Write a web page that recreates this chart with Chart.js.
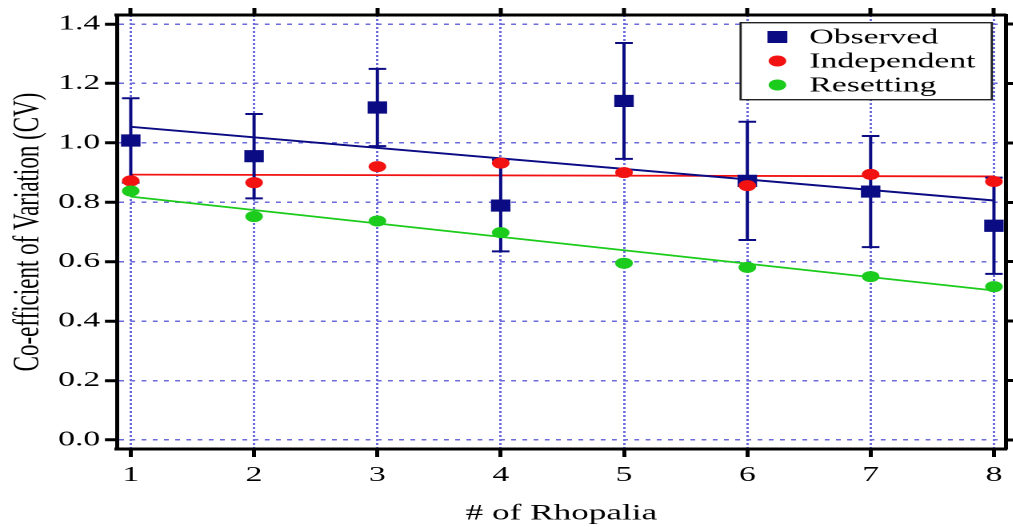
<!DOCTYPE html>
<html><head><meta charset="utf-8">
<script src="https://cdn.jsdelivr.net/npm/chart.js@4.4.1/dist/chart.umd.min.js"></script>
<style>
html,body{margin:0;padding:0;background:#fff;overflow:hidden;width:1013px;height:527px;}
#wrap{position:absolute;left:0;top:0;width:633.125px;height:527px;transform:scaleX(1.6);transform-origin:0 0;}
</style></head><body>
<div id="wrap"><canvas id="c"></canvas></div>
<script>
// ---- data ----
const rhopalia = [1, 2, 3, 4, 5, 6, 7, 8];
const observed = [1.008, 0.955, 1.119, 0.789, 1.141, 0.872, 0.836, 0.721];
const observedErr = [0.142, 0.142, 0.130, 0.154, 0.195, 0.199, 0.187, 0.162];
const independent = [0.872, 0.866, 0.920, 0.932, 0.900, 0.856, 0.894, 0.870];
const resetting = [0.838, 0.752, 0.737, 0.698, 0.595, 0.581, 0.550, 0.516];
const fitX = [1, 8];
const observedFit = [1.054, 0.806];
const independentFit = [0.893, 0.887];
const resettingFit = [0.819, 0.503];
const seriesNames = ['Observed', 'Independent', 'Resetting'];
const xTitle = '# of Rhopalia';
const yTitle = 'Co-efficient of Variation (CV)';

const NAVY = '#0b0b84', RED = '#f21212', GREEN = '#1ccc1c', GRID = '#6b6bdc';
const FONT = '"Liberation Serif", "Times New Roman", serif';
const toXY = (xs, ys) => xs.map((x, i) => ({x: x, y: ys[i]}));

const errorBars = {
  id: 'errorBars',
  beforeDatasetDraw(chart, args) {
    const ds = chart.data.datasets[args.index];
    if (!ds.errors) return;
    const xs = chart.scales.x, ys = chart.scales.y, ctx = chart.ctx;
    ctx.save();
    ctx.strokeStyle = ds.backgroundColor;
    ctx.lineWidth = 2;
    ds.data.forEach((p, i) => {
      const e = ds.errors[i];
      const px = xs.getPixelForValue(p.x);
      const t = ys.getPixelForValue(p.y + e), b = ys.getPixelForValue(p.y - e);
      ctx.beginPath();
      ctx.moveTo(px, t); ctx.lineTo(px, b);
      ctx.moveTo(px - 5.5, t); ctx.lineTo(px + 5.5, t);
      ctx.moveTo(px - 5.5, b); ctx.lineTo(px + 5.5, b);
      ctx.stroke();
    });
    ctx.restore();
  }
};

const boxLegend = {
  id: 'boxLegend',
  afterDraw(chart) {
    const ctx = chart.ctx, ca = chart.chartArea;
    const bw = 157, bh = 77;
    const bx = ca.right - 8.8 - bw, by = ca.top + 7.7;
    ctx.save();
    ctx.fillStyle = '#fff';
    ctx.fillRect(bx, by, bw, bh);
    ctx.strokeStyle = '#222';
    ctx.lineWidth = 1.4;
    ctx.strokeRect(bx, by, bw, bh);
    ctx.font = '21px ' + FONT;
    ctx.textBaseline = 'middle';
    ctx.textAlign = 'left';
    seriesNames.forEach((name, i) => {
      const ds = chart.data.datasets.find(d => d.label === name);
      const cy = by + 14.3 + i * 24;
      const mx = bx + 23;
      ctx.fillStyle = ds.backgroundColor;
      if (ds.pointStyle === 'rect') {
        ctx.fillRect(mx - 6.2, cy - 6, 12.4, 12);
      } else {
        ctx.beginPath();
        ctx.arc(mx, cy, 5.5, 0, Math.PI * 2);
        ctx.fill();
      }
      ctx.fillStyle = '#000';
      ctx.fillText(name, bx + 43, cy + 1);
    });
    ctx.restore();
  }
};

const tickFont = {family: FONT, size: 21};
const noPad = s => { s.paddingLeft = 0; s.paddingRight = 0; s.paddingTop = 0; s.paddingBottom = 0; };

new Chart(document.getElementById('c'), {
  type: 'scatter',
  data: {
    datasets: [
      {label: seriesNames[2], data: toXY(rhopalia, resetting), pointStyle: 'circle', pointRadius: 5.5,
       backgroundColor: GREEN, borderColor: GREEN, borderWidth: 0, order: 1},
      {label: seriesNames[1], data: toXY(rhopalia, independent), pointStyle: 'circle', pointRadius: 5.5,
       backgroundColor: RED, borderColor: RED, borderWidth: 0, order: 2},
      {label: seriesNames[0], data: toXY(rhopalia, observed), errors: observedErr, pointStyle: 'rect', pointRadius: 8.6,
       backgroundColor: NAVY, borderColor: NAVY, borderWidth: 0, order: 3},
      {label: 'Observed fit', type: 'line', data: toXY(fitX, observedFit), borderColor: NAVY, borderWidth: 2,
       pointRadius: 0, fill: false, order: 4},
      {label: 'Independent fit', type: 'line', data: toXY(fitX, independentFit), borderColor: RED, borderWidth: 1.8,
       pointRadius: 0, fill: false, order: 5},
      {label: 'Resetting fit', type: 'line', data: toXY(fitX, resettingFit), borderColor: GREEN, borderWidth: 1.8,
       pointRadius: 0, fill: false, order: 6}
    ]
  },
  options: {
    responsive: true, maintainAspectRatio: false, animation: false, devicePixelRatio: 2,
    layout: {padding: 0, autoPadding: false},
    plugins: {legend: {display: false}, tooltip: {enabled: false}},
    scales: {
      x: {
        type: 'linear', position: 'bottom', min: 0.888, max: 8.097,
        afterFit: s => { s.height = 78; noPad(s); },
        ticks: {stepSize: 1, includeBounds: false, autoSkip: false, maxRotation: 0, padding: 6,
                color: '#000', font: tickFont, callback: v => String(v)},
        grid: {color: GRID, lineWidth: 1.5, drawTicks: true, tickLength: 8, tickWidth: 2.5, tickColor: '#000'},
        border: {display: true, color: '#000', width: 3, dash: [2, 2]},
        title: {display: true, text: xTitle, color: '#000', font: {family: FONT, size: 22}, padding: {top: 0, bottom: 0}}
      },
      x2: {
        type: 'linear', position: 'top', min: 0.888, max: 8.097,
        afterFit: s => { s.height = 15; noPad(s); },
        ticks: {stepSize: 1, includeBounds: false, autoSkip: false, display: false},
        grid: {drawOnChartArea: false, drawTicks: true, tickLength: 7, tickWidth: 2.5, tickColor: '#000', color: '#000'},
        border: {display: true, color: '#000', width: 3}
      },
      y: {
        type: 'linear', position: 'left', min: -0.0303, max: 1.4303,
        afterFit: s => { s.width = 73.1; noPad(s); },
        ticks: {stepSize: 0.2, includeBounds: false, padding: 3, color: '#000', font: tickFont,
                callback: v => Number(v).toFixed(1)},
        grid: {color: GRID, lineWidth: 1.5, drawTicks: true, tickLength: 7.5, tickWidth: 3, tickColor: '#000'},
        border: {display: true, color: '#000', width: 2.5, dash: [3, 4]},
        title: {display: true, text: yTitle, color: '#000', font: {family: FONT, size: 23}, padding: {top: 4, bottom: 0}}
      },
      y2: {
        type: 'linear', position: 'right', min: -0.0303, max: 1.4303,
        afterFit: s => { s.width = 4.4; noPad(s); },
        ticks: {stepSize: 0.2, includeBounds: false, display: false},
        grid: {drawOnChartArea: false, drawTicks: true, tickLength: 4.4, tickWidth: 3, tickColor: '#000', color: '#000'},
        border: {display: true, color: '#000', width: 2.5}
      }
    }
  },
  plugins: [errorBars, boxLegend]
});
</script>
</body></html>
